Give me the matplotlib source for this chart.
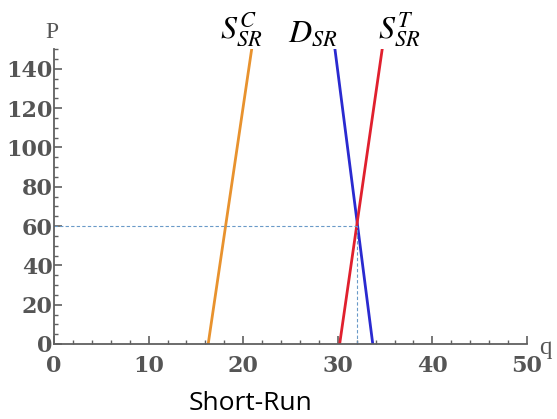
import matplotlib
matplotlib.use("Agg")
import matplotlib.pyplot as plt
from matplotlib.ticker import MultipleLocator

plt.rcParams['mathtext.fontset'] = 'stix'

# Curves as (q, p) end points
supply_c_q = [16.3, 20.9]
supply_c_p = [0, 150]
supply_t_q = [30.2, 34.7]
supply_t_p = [0, 150]
demand_q = [33.7, 29.7]
demand_p = [0, 150]

# Equilibrium
eq_q = 32.0
eq_p = 60

x_ticks = [0, 10, 20, 30, 40, 50]
y_ticks = [0, 20, 40, 60, 80, 100, 120, 140]

fig = plt.figure(figsize=(5.57, 4.19), dpi=100)
ax = fig.add_axes([0.097, 0.179, 0.849, 0.704])

ax.plot(supply_c_q, supply_c_p, color='#e8922e', lw=2)
ax.plot(demand_q, demand_p, color='#2a2ad0', lw=2)
ax.plot(supply_t_q, supply_t_p, color='#e0202e', lw=2)

ax.plot([0, eq_q], [eq_p, eq_p], color='#6a9ac8', lw=0.8, ls=(0, (3, 2)))
ax.plot([eq_q, eq_q], [0, eq_p], color='#6a9ac8', lw=0.8, ls=(0, (3, 2)))

ax.set_xlim(0, 50)
ax.set_ylim(0, 150)
ax.set_xticks(x_ticks)
ax.set_yticks(y_ticks)
ax.xaxis.set_minor_locator(MultipleLocator(2))
ax.yaxis.set_minor_locator(MultipleLocator(5))

grey = '#606060'
for s in ['top', 'right']:
    ax.spines[s].set_visible(False)
for s in ['left', 'bottom']:
    ax.spines[s].set_color(grey)
    ax.spines[s].set_linewidth(1.3)

ax.tick_params(which='major', direction='in', length=6, width=1.2, color=grey,
               labelsize=16, labelcolor='#555555')
ax.tick_params(which='minor', direction='in', length=3, width=1.0, color=grey)
ax.tick_params(axis='x', pad=8)
ax.tick_params(axis='y', pad=1)
for lab in ax.get_xticklabels() + ax.get_yticklabels():
    lab.set_fontfamily('DejaVu Serif')
    lab.set_fontweight('bold')

ax.text(-0.2, 158.5, 'P', fontsize=17, color='#555555', family='Liberation Serif',
        ha='center', va='center', clip_on=False)
ax.text(52, -2, 'q', fontsize=18, color='#555555', family='Liberation Serif',
        ha='center', va='center', clip_on=False)

ax.text(19.8, 150, r'$S_{SR}^{C}$', fontsize=23, ha='center', va='bottom', clip_on=False)
ax.text(27.4, 150, r'$D_{SR}$', fontsize=23, ha='center', va='bottom', clip_on=False)
ax.text(36.5, 150, r'$S_{SR}^{T}$', fontsize=23, ha='center', va='bottom', clip_on=False)

fig.text(0.45, 0.038, 'Short-Run', fontsize=19, family='Open Sans', ha='center', va='center')

fig.savefig('out.png', dpi=100)
